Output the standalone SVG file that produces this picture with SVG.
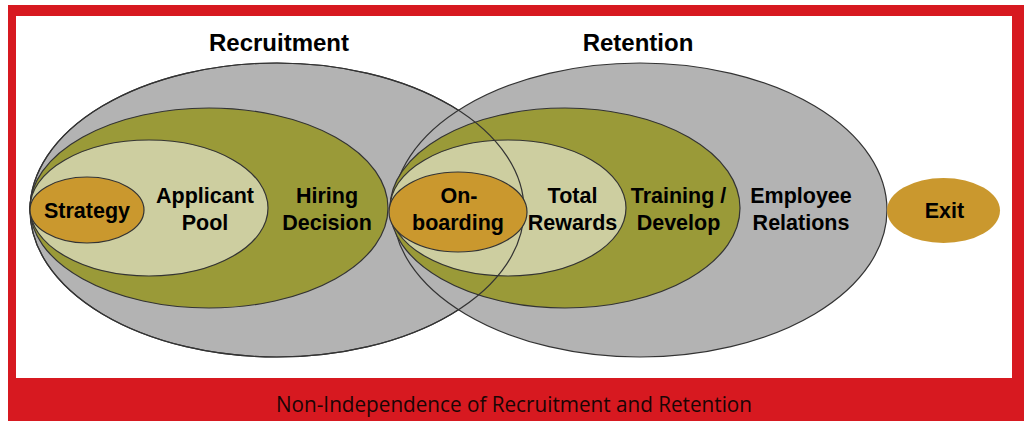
<svg xmlns="http://www.w3.org/2000/svg" width="1024" height="421" viewBox="0 0 1024 421">
<style>
.gray{fill:#b3b3b3;stroke:#333;stroke-width:1.2}
.olive{fill:#9a9a38;stroke:#333;stroke-width:1.2}
.light{fill:#cdcea0;stroke:#333;stroke-width:1.2}
.orange{fill:#ca982e;stroke:#333;stroke-width:1.2}
.line{fill:none;stroke:#333;stroke-width:1.2}
.t{font-family:"Liberation Sans",Arial,sans-serif;font-weight:bold;font-size:21.5px;fill:#000;text-anchor:middle}
.title{font-family:"Liberation Sans",Arial,sans-serif;font-weight:bold;font-size:24px;fill:#000;text-anchor:middle}
.cap{font-family:"Open Sans","Liberation Sans",sans-serif;font-size:22px;fill:#1a0505;text-anchor:middle}
</style>
<rect x="8" y="5" width="1016" height="416" fill="#d71920"/>
<rect x="16" y="16" width="996" height="362" fill="#ffffff"/>
<text class="cap" x="514" y="412" textLength="476" lengthAdjust="spacingAndGlyphs">Non-Independence of Recruitment and Retention</text>
<text class="title" x="279" y="51">Recruitment</text>
<text class="title" x="638" y="51">Retention</text>
<g id="recruitment">
<ellipse class="gray" cx="277" cy="210" rx="247" ry="147"/>
<ellipse class="olive" cx="209" cy="208" rx="179" ry="100"/>
<ellipse class="light" cx="149" cy="208" rx="119" ry="68"/>
</g>
<g id="retention">
<ellipse class="gray" cx="640" cy="210" rx="247" ry="147"/>
<ellipse class="olive" cx="565" cy="208" rx="175" ry="100"/>
<ellipse class="light" cx="508" cy="208" rx="118" ry="68"/>
</g>
<g id="connectors">
<ellipse class="line" cx="277" cy="210" rx="247" ry="147"/>
</g>
<g id="strategy">
<ellipse class="orange" cx="87" cy="210" rx="57" ry="33"/>
<text class="t" x="87" y="218">Strategy</text>
</g>
<g id="applicant-pool">
<text class="t" x="205" y="203">Applicant</text>
<text class="t" x="205" y="230">Pool</text>
</g>
<g id="hiring-decision">
<text class="t" x="327" y="203">Hiring</text>
<text class="t" x="327" y="230">Decision</text>
</g>
<g id="onboarding">
<ellipse class="orange" cx="458" cy="212" rx="69" ry="40"/>
<text class="t" x="459" y="203">On-</text>
<text class="t" x="458" y="230">boarding</text>
</g>
<g id="total-rewards">
<text class="t" x="572.5" y="203">Total</text>
<text class="t" x="572.5" y="230">Rewards</text>
</g>
<g id="training-develop">
<text class="t" x="678.5" y="203">Training /</text>
<text class="t" x="678.5" y="230">Develop</text>
</g>
<g id="employee-relations">
<text class="t" x="801" y="203">Employee</text>
<text class="t" x="801" y="230">Relations</text>
</g>
<g id="exit">
<ellipse cx="943.5" cy="210.5" rx="56.5" ry="32.5" fill="#ca982e"/>
<text class="t" x="944.5" y="218">Exit</text>
</g>
</svg>
